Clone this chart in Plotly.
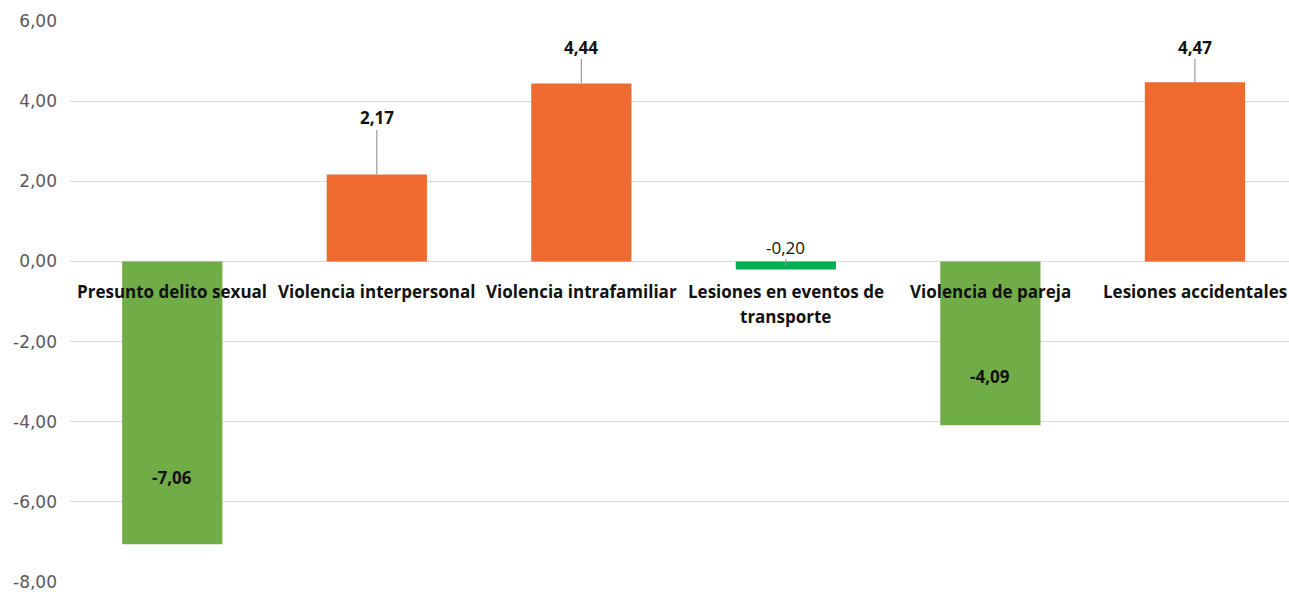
import plotly.graph_objects as go

categories = ["Presunto delito sexual", "Violencia interpersonal", "Violencia intrafamiliar",
              "Lesiones en eventos de<br>transporte", "Violencia de pareja", "Lesiones accidentales"]
values = [-7.06, 2.17, 4.44, -0.20, -4.09, 4.47]
colors = ["#70AD47", "#EE6A2F", "#EE6A2F", "#00B050", "#70AD47", "#EE6A2F"]
# label anchor positions (in data units) and whether a leader line is drawn
label_y = [-5.40, 3.58, 5.35, 0.36, -2.88, 5.35]
leader = [False, True, True, True, False, True]
label_bold = [True, True, True, False, True, True]
yticks = [-8, -6, -4, -2, 0, 2, 4, 6]

def fmt(v):
    return f"{v:.2f}".replace(".", ",")

x = list(range(len(categories)))
fig = go.Figure()
fig.add_trace(go.Bar(x=x, y=values, marker=dict(color=colors, line=dict(width=0)),
                     width=0.49, hoverinfo="skip"))

annotations = []
shapes = []
for i, (v, ly, ld, b) in enumerate(zip(values, label_y, leader, label_bold)):
    t = fmt(v)
    annotations.append(dict(x=i, y=ly, xref="x", yref="y", text=f"<b>{t}</b>" if b else t,
                            showarrow=False, font=dict(family="Open Sans", size=17, color="#111111"),
                            xanchor="center", yanchor="middle"))
    if ld:
        top = ly - 0.30
        bottom = v if v > 0 else v / 2
        shapes.append(dict(type="line", xref="x", yref="y", x0=i, x1=i, y0=bottom, y1=top,
                           line=dict(color="#9a9a9a", width=1.2), layer="above"))
for i, c in enumerate(categories):
    for k, line in enumerate(c.split("<br>")):
        annotations.append(dict(x=i, y=0, xref="x", yref="y", text=f"<b>{line}</b>", showarrow=False,
                                font=dict(family="Open Sans", size=17, color="#111111"),
                                xanchor="center", yanchor="middle", yshift=-30 - 25 * k))

fig.update_layout(
    width=1289, height=592,
    margin=dict(l=70, r=0, t=21, b=10),
    paper_bgcolor="white", plot_bgcolor="white",
    showlegend=False,
    annotations=annotations, shapes=shapes,
    xaxis=dict(range=[-0.5, 5.46], showticklabels=False, showgrid=False, zeroline=False,
               showline=False, ticks=""),
    yaxis=dict(range=[-8, 6], tickvals=yticks, ticktext=[fmt(v) for v in yticks], showgrid=True,
               gridcolor="#d9d9d9", gridwidth=1, zeroline=True, zerolinecolor="#d9d9d9",
               zerolinewidth=1, showline=False, ticks="", ticklen=0,
               tickfont=dict(family="DejaVu Sans", size=17, color="#595959"), ticklabelstandoff=12),
)
fig.write_html("out.html", post_script="document.body.style.margin='0';",
               config={"displayModeBar": False})
